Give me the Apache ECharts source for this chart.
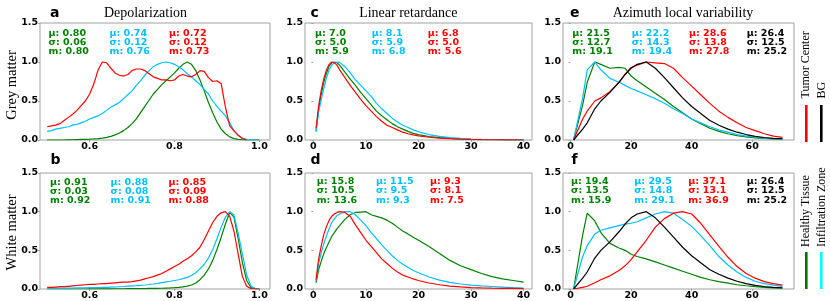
<!DOCTYPE html>
<html><head><meta charset="utf-8">
<script src="https://cdn.jsdelivr.net/npm/echarts@6/dist/echarts.min.js"></script>
<style>html,body{margin:0;padding:0;background:#fff}#c{width:830px;height:301px}</style>
</head><body><div id="c"></div>
<script>
// ---------- DATA ----------
const titles = ['Depolarization', 'Linear retardance', 'Azimuth local variability'];
const panelLetters = ['a', 'b', 'c', 'd', 'e', 'f'];
const rowNames = ['Grey matter', 'White matter'];
const legendTop = ['Tumor Center', 'BG'];
const legendBottom = ['Healthy Tissue', 'Infiltration Zone'];
const yTicks = [0, 0.5, 1.0, 1.5];
const depTicks = [0.6, 0.8, 1.0];
const retTicks = [0, 10, 20, 30, 40];
const aziTicks = [0, 20, 40, 60];

const depX = [0.50,0.51,0.52,0.53,0.54,0.55,0.56,0.57,0.58,0.59,0.60,0.61,0.62,0.63,0.64,0.65,0.66,0.67,0.68,0.69,0.70,0.71,0.72,0.73,0.74,0.75,0.76,0.77,0.78,0.79,0.80,0.81,0.82,0.83,0.84,0.85,0.86,0.87,0.88,0.89,0.90,0.91,0.92,0.93,0.94,0.95,0.96,0.97,0.98,0.99,1.00];
const depGreyGreen = [0,0,0,0,0,0.002,0.003,0.005,0.007,0.009,0.011,0.014,0.018,0.024,0.033,0.047,0.066,0.09,0.12,0.16,0.21,0.27,0.35,0.43,0.51,0.59,0.65,0.71,0.76,0.81,0.86,0.92,0.97,1.0,0.97,0.89,0.77,0.63,0.48,0.35,0.23,0.14,0.08,0.04,0.018,0.007,0.002,0,0,0,0];
const depGreyCyan = [0.11,0.12,0.14,0.15,0.16,0.17,0.19,0.20,0.22,0.24,0.27,0.29,0.31,0.34,0.38,0.42,0.45,0.48,0.53,0.58,0.63,0.70,0.76,0.83,0.89,0.94,0.97,0.99,1.0,0.99,0.97,0.94,0.90,0.85,0.81,0.76,0.71,0.65,0.59,0.50,0.43,0.37,0.31,0.22,0.12,0.06,0.02,0.01,0,0,0];
const depGreyRed = [0.17,0.18,0.19,0.21,0.25,0.29,0.33,0.38,0.44,0.50,0.59,0.72,0.90,1.0,0.99,0.92,0.86,0.83,0.82,0.84,0.89,0.91,0.91,0.89,0.85,0.81,0.79,0.77,0.77,0.76,0.77,0.82,0.84,0.82,0.81,0.84,0.89,0.88,0.80,0.75,0.76,0.72,0.42,0.18,0.12,0.06,0.02,0,null,null,null];
const depWhiteGreen = [0,0,0,0,0,0,0,0,0,0,0.001,0.001,0.001,0.002,0.002,0.002,0.003,0.003,0.003,0.004,0.004,0.005,0.005,0.006,0.007,0.008,0.009,0.01,0.012,0.014,0.017,0.021,0.027,0.037,0.052,0.078,0.12,0.18,0.26,0.37,0.51,0.67,0.84,0.99,0.93,0.65,0.34,0.11,0.02,0.003,0];
const depWhiteCyan = [0.01,0.01,0.011,0.011,0.012,0.012,0.013,0.014,0.015,0.016,0.017,0.018,0.019,0.02,0.022,0.024,0.026,0.029,0.032,0.036,0.04,0.043,0.047,0.052,0.058,0.065,0.073,0.083,0.093,0.10,0.11,0.12,0.135,0.15,0.175,0.21,0.26,0.32,0.40,0.51,0.65,0.80,0.93,1.0,0.96,0.72,0.45,0.18,0.04,0.006,0];
const depWhiteRed = [0.02,0.02,0.025,0.03,0.03,0.035,0.04,0.045,0.05,0.055,0.06,0.06,0.065,0.07,0.07,0.075,0.08,0.085,0.09,0.09,0.095,0.105,0.115,0.13,0.145,0.16,0.18,0.20,0.23,0.26,0.29,0.32,0.36,0.39,0.43,0.48,0.54,0.64,0.75,0.86,0.94,0.985,1.0,0.94,0.75,0.45,0.16,0.035,0.005,0,0];

const retX = [0.5,1,1.5,2,2.5,3,3.5,4,4.5,5,6,7,8,9,10,11,12,13,14,15,16,17,18,19,20,22,24,26,28,30,32,34,36,38,40];
const retGreyGreen = [0.11,0.40,0.59,0.75,0.86,0.95,0.99,1.0,0.99,0.96,0.87,0.78,0.70,0.61,0.53,0.45,0.37,0.31,0.26,0.21,0.17,0.14,0.11,0.085,0.07,0.045,0.03,0.02,0.013,0.009,0.006,0.004,0.002,0.001,0];
const retGreyCyan = [0.11,0.36,0.52,0.67,0.80,0.90,0.96,0.99,1.0,0.995,0.94,0.86,0.77,0.70,0.63,0.56,0.47,0.40,0.34,0.28,0.23,0.19,0.16,0.13,0.105,0.07,0.047,0.03,0.02,0.013,0.009,0.006,0.004,0.002,0.001];
const retGreyRed = [0.15,0.44,0.64,0.79,0.90,0.97,1.0,0.99,0.96,0.90,0.80,0.70,0.61,0.52,0.44,0.37,0.30,0.24,0.19,0.16,0.13,0.10,0.08,0.065,0.052,0.035,0.024,0.017,0.012,0.008,0.005,0.003,0.002,0.001,0];
const retWhiteGreen = [0.08,0.25,0.36,0.46,0.54,0.61,0.68,0.73,0.78,0.82,0.90,0.96,0.99,0.995,1.0,0.96,0.94,0.92,0.89,0.85,0.80,0.75,0.71,0.67,0.63,0.55,0.46,0.37,0.30,0.25,0.20,0.16,0.13,0.11,0.09];
const retWhiteCyan = [0.10,0.33,0.47,0.59,0.69,0.78,0.86,0.91,0.95,0.97,1.0,1.0,0.96,0.89,0.82,0.73,0.65,0.57,0.50,0.43,0.37,0.32,0.28,0.24,0.21,0.155,0.115,0.085,0.065,0.05,0.04,0.032,0.024,0.018,0.013];
const retWhiteRed = [0.12,0.39,0.56,0.71,0.81,0.89,0.94,0.97,0.99,1.0,0.99,0.94,0.83,0.73,0.63,0.55,0.47,0.39,0.33,0.27,0.22,0.18,0.155,0.13,0.11,0.078,0.055,0.038,0.027,0.019,0.014,0.011,0.009,0.007,0.005];

const aziX = [1,4,5.5,8,10,13,16,18,20,22,25,28,31,34,37,40,43,46,49,52,55,58,61,64,67,70];
const aziGreyGreen = [0,0.45,0.74,1.0,0.97,0.92,0.93,0.92,0.82,0.76,0.68,0.60,0.52,0.43,0.35,0.27,0.21,0.15,0.11,0.08,0.055,0.04,0.028,0.02,0.014,0.01];
const aziGreyCyan = [0,0.54,0.90,1.0,0.90,0.79,0.74,0.70,0.66,0.63,0.58,0.53,0.47,0.40,0.34,0.27,0.22,0.17,0.13,0.10,0.07,0.05,0.035,0.025,0.017,0.01];
const aziGreyRed = [0,0.27,0.37,0.50,0.54,0.62,0.74,0.84,0.93,0.96,1.0,0.99,0.98,0.92,0.80,0.69,0.58,0.47,0.37,0.29,0.22,0.16,0.12,0.08,0.05,0.034];
const aziBG = [0,0.14,0.22,0.40,0.50,0.61,0.74,0.84,0.92,0.97,1.0,0.92,0.80,0.67,0.54,0.43,0.34,0.25,0.19,0.14,0.10,0.07,0.046,0.032,0.022,0.016];
const aziWhiteGreen = [0,0.70,0.98,0.88,0.73,0.59,0.53,0.50,0.45,0.42,0.39,0.35,0.31,0.27,0.23,0.19,0.15,0.12,0.095,0.075,0.055,0.042,0.03,0.022,0.015,0.01];
const aziWhiteCyan = [0,0.42,0.56,0.71,0.76,0.79,0.82,0.84,0.85,0.87,0.92,0.97,1.0,0.98,0.90,0.81,0.69,0.56,0.42,0.31,0.22,0.15,0.10,0.07,0.05,0.035];
const aziWhiteRed = [0,0.02,0.035,0.08,0.12,0.17,0.24,0.30,0.38,0.48,0.63,0.80,0.91,0.98,1.0,0.97,0.85,0.70,0.55,0.41,0.29,0.20,0.14,0.095,0.07,0.05];

const statsGreyDep = [['0.80','0.06','0.80'],['0.74','0.12','0.76'],['0.72','0.12','0.73']];
const statsWhiteDep = [['0.91','0.03','0.92'],['0.88','0.08','0.91'],['0.85','0.09','0.88']];
const statsGreyRet = [['7.0','5.0','5.9'],['8.1','5.9','6.8'],['6.8','5.0','5.6']];
const statsWhiteRet = [['15.8','10.5','13.6'],['11.5','9.5','9.3'],['9.3','8.1','7.5']];
const statsGreyAzi = [['21.5','12.7','19.1'],['22.2','14.3','19.4'],['28.6','13.8','27.8'],['26.4','12.5','25.2']];
const statsWhiteAzi = [['19.4','13.5','15.9'],['29.5','14.8','29.1'],['37.1','13.1','36.9'],['26.4','12.5','25.2']];

// ---------- STYLE / LAYOUT ----------
const COLS = ['#008000', '#00bfff', '#ff0000', '#000000'];
const SANS = '"DejaVu Sans", sans-serif';
const SERIF = '"Liberation Serif", "Times New Roman", serif';

const panels = [
  {grid:{left:40,top:23,width:230,height:117}, xmin:0.483, xmax:1.025, ticks:depTicks, dec:1, x:depX, ys:[depGreyGreen,depGreyCyan,depGreyRed], stats:statsGreyDep, sx:[48.5,109.5,169], sy:33.3, letter:[50,13.5]},
  {grid:{left:40,top:173,width:230,height:116}, xmin:0.483, xmax:1.025, ticks:depTicks, dec:1, x:depX, ys:[depWhiteGreen,depWhiteCyan,depWhiteRed], stats:statsWhiteDep, sx:[50,110.5,168.5], sy:182.3, letter:[50.5,160]},
  {grid:{left:305,top:23,width:227,height:117}, xmin:-1.6, xmax:41.6, ticks:retTicks, dec:0, x:retX, ys:[retGreyGreen,retGreyCyan,retGreyRed], stats:statsGreyRet, sx:[315,371.7,427.7], sy:33.3, letter:[310.5,13.5]},
  {grid:{left:305,top:173,width:227,height:116}, xmin:-1.6, xmax:41.6, ticks:retTicks, dec:0, x:retX, ys:[retWhiteGreen,retWhiteCyan,retWhiteRed], stats:statsWhiteRet, sx:[316.7,376,430], sy:181.7, letter:[310.5,160]},
  {grid:{left:563,top:23,width:231,height:117}, xmin:-2.5, xmax:73.8, ticks:aziTicks, dec:0, x:aziX, ys:[aziGreyGreen,aziGreyCyan,aziGreyRed,aziBG], stats:statsGreyAzi, sx:[572.3,631.7,689,746.7], sy:33.3, letter:[570,13.5]},
  {grid:{left:563,top:173,width:231,height:116}, xmin:-2.5, xmax:73.8, ticks:aziTicks, dec:0, x:aziX, ys:[aziWhiteGreen,aziWhiteCyan,aziWhiteRed,aziBG], stats:statsWhiteAzi, sx:[571,634.3,688.3,746.7], sy:181.7, letter:[571.5,160]}
];

const grids = [], xAxes = [], yAxes = [], series = [], graphics = [];
const LH = 9.3;

function txt(x, y, text, font, fill, align, valign, rot) {
  const el = {type:'text', x:x, y:y, silent:true,
    style:{text:text, font:font, fill:fill, align:align, textAlign:align, verticalAlign:valign, textVerticalAlign:valign, lineHeight:LH}};
  if (rot) el.rotation = rot;
  return el;
}

panels.forEach((p, i) => {
  grids.push(Object.assign({show:true, borderColor:'#a0a0a0', borderWidth:1, backgroundColor:'transparent'}, p.grid));
  xAxes.push({type:'value', gridIndex:i, min:p.xmin, max:p.xmax,
    axisLine:{show:false}, splitLine:{show:false},
    axisTick:{show:true, length:2, lineStyle:{color:'#a0a0a0'}, customValues:p.ticks},
    axisLabel:{customValues:p.ticks, margin:2, color:'#000', fontSize:9.5, fontWeight:'bold', fontFamily:SANS,
      formatter: (v) => p.dec ? Number(v).toFixed(p.dec) : String(Math.round(v))}});
  yAxes.push({type:'value', gridIndex:i, min:0, max:1.5, interval:0.5,
    axisLine:{show:false}, splitLine:{show:false},
    axisTick:{show:true, length:2, lineStyle:{color:'#a0a0a0'}},
    axisLabel:{margin:2, color:'#000', fontSize:9.5, fontWeight:'bold', fontFamily:SANS,
      formatter: (v) => Number(v).toFixed(1)}});
  p.ys.forEach((ys, k) => {
    const data = [];
    p.x.forEach((xv, j) => { if (ys[j] !== null) data.push([xv, ys[j]]); });
    series.push({type:'line', xAxisIndex:i, yAxisIndex:i, data:data, showSymbol:false, smooth:false,
      lineStyle:{color:COLS[k], width:1.2}, itemStyle:{color:COLS[k]}, z:2+k, silent:true, animation:false});
  });
  p.stats.forEach((s, k) => {
    graphics.push(txt(p.sx[k], p.sy - LH/2, 'μ: ' + s[0] + '\nσ: ' + s[1] + '\nm: ' + s[2],
      'bold 9.5px ' + SANS, COLS[k], 'left', 'top'));
  });
  graphics.push(txt(p.letter[0], p.letter[1], panelLetters[i], 'bold 14px ' + SANS, '#000', 'left', 'middle'));
});

// column titles
[[145.5,13.3],[408.3,13.3],[683,13.3]].forEach((pos, i) => {
  graphics.push(txt(pos[0], pos[1], titles[i], '14px ' + SERIF, '#000', 'center', 'middle'));
});
// row names
graphics.push(txt(12, 85, rowNames[0], '14.5px ' + SERIF, '#000', 'center', 'middle', Math.PI/2));
graphics.push(txt(12, 232.5, rowNames[1], '14.5px ' + SERIF, '#000', 'center', 'middle', Math.PI/2));
// legend texts
graphics.push(txt(806, 98.5, legendTop[0], '12px ' + SERIF, '#000', 'left', 'middle', Math.PI/2));
graphics.push(txt(821.5, 98.5, legendTop[1], '12px ' + SERIF, '#000', 'left', 'middle', Math.PI/2));
graphics.push(txt(806, 247, legendBottom[0], '12px ' + SERIF, '#000', 'left', 'middle', Math.PI/2));
graphics.push(txt(821.5, 247, legendBottom[1], '12px ' + SERIF, '#000', 'left', 'middle', Math.PI/2));
// legend colour bars
[[805, 105, '#ff0000'], [820, 105, '#000000'], [805, 252, '#007000'], [820, 252, '#00ffff']].forEach(b => {
  graphics.push({type:'rect', silent:true, shape:{x:b[0], y:b[1], width:2.6, height:37}, style:{fill:b[2]}});
});

const chart = echarts.init(document.getElementById('c'), null, {renderer:'canvas'});
chart.setOption({
  animation:false,
  backgroundColor:'#ffffff',
  grid:grids, xAxis:xAxes, yAxis:yAxes, series:series,
  graphic:{elements:graphics}
});
</script>
</body></html>
